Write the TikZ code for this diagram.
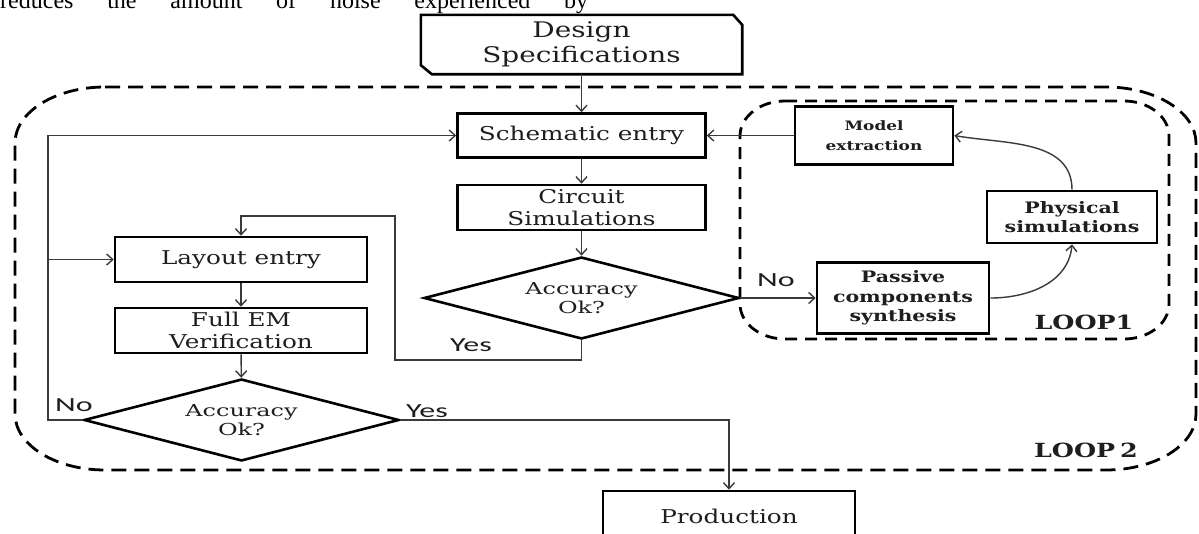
\documentclass[tikz,border=0pt]{standalone}
\usepackage{graphicx}
\usepackage{fontspec}
\setmainfont[FakeStretch=1.3]{DejaVu Serif}
\newfontfamily\diafont[FakeStretch=1.45]{DejaVu Serif}
\newfontfamily\labelfont[FakeStretch=1.6]{Carlito}
\newfontfamily\topfont{Liberation Serif}
\usetikzlibrary{arrows.meta,shapes.geometric,calc}
\definecolor{ink}{HTML}{1E1E1E}
\definecolor{wire}{HTML}{3A3A3A}
\begin{document}
\begin{tikzpicture}[x=1pt,y=1pt,
  box/.style={draw=black, line width=2.6pt, fill=white, inner sep=0pt, align=center, text=ink,
    font=\fontsize{19}{22.5}\selectfont},
  modbox/.style={box, font=\bfseries\fontsize{13}{20}\selectfont},
  smallbox/.style={box, font=\bfseries\fontsize{15.8}{19.5}\selectfont},
  dia/.style={draw=black, shape=diamond, line width=2.6pt, fill=white, inner sep=0pt, aspect=3.8,
    minimum width=315pt, minimum height=82pt, align=center, text=ink,
    font=\diafont\fontsize{16.5}{19.5}\selectfont},
  conn/.style={draw=wire, line width=1.4pt, -{Straight Barb[length=6pt,width=11pt,line width=1.4pt]}},
  lab/.style={inner sep=0pt, text=ink, font=\labelfont\fontsize{20}{20}\selectfont},
  looplab/.style={inner sep=0pt, text=ink, font=\bfseries\fontsize{19.5}{20}\selectfont},
  outerloop/.style={draw=black, line width=2.8pt, dash pattern=on 15pt off 8pt},
  innerloop/.style={draw=black, line width=2.8pt, dash pattern=on 12pt off 8pt}]
\useasboundingbox (0,0) rectangle (1199,-533);
\clip (0,0) rectangle (1199,-533);
\fill[white] (0,0) rectangle (1199,-533);

% cut-off line of body text at the top
\node[anchor=base west, inner sep=0pt, text=black, font=\topfont\fontsize{24}{24}\selectfont] (topline) at (0,-8)
  {\hbox to 588pt{reduces\hfill the\hfill amount\hfill of\hfill noise\hfill experienced\hfill by}};

% loops
\draw[outerloop] (105,-87) -- (1106,-87) arc[start angle=90,end angle=0,x radius=90pt,y radius=56pt]
  -- (1196,-414) arc[start angle=0,end angle=-90,x radius=90pt,y radius=56pt]
  -- (105,-470) arc[start angle=270,end angle=180,x radius=90pt,y radius=56pt]
  -- (15,-143) arc[start angle=180,end angle=90,x radius=90pt,y radius=56pt] -- cycle;
\draw[innerloop] (785,-101) -- (1124,-101) arc[start angle=90,end angle=0,x radius=45pt,y radius=35pt]
  -- (1169,-304) arc[start angle=0,end angle=-90,x radius=45pt,y radius=35pt]
  -- (785,-339) arc[start angle=270,end angle=180,x radius=45pt,y radius=35pt]
  -- (740,-136) arc[start angle=180,end angle=90,x radius=45pt,y radius=35pt] -- cycle;

% nodes
\node[inner sep=0pt, minimum width=321pt, minimum height=59pt, align=center, text=ink,
  font=\fontsize{21.5}{25.5}\selectfont] (des) at (581.5,-44.5) {Design\\Specifications};
\draw[line width=2.6pt, line join=miter] (des.north west) -- ($(des.north east)+(-9,0)$)
  -- ($(des.north east)+(0,-10)$) -- (des.south east) -- ($(des.south west)+(11,0)$)
  -- ($(des.south west)+(0,9)$) -- cycle;
\node[box, minimum width=248pt, minimum height=44pt] (sch) at (581.5,-135.5) {Schematic entry};
\node[box, minimum width=248pt, minimum height=45pt] (cir) at (581.5,-207.5) {Circuit\\Simulations};
\node[dia] (acc1) at (581.5,-298) {Accuracy\\Ok?};
\node[box, minimum width=252pt, minimum height=45pt] (lay) at (241,-259.5) {Layout entry};
\node[box, minimum width=252pt, minimum height=45pt] (fem) at (241,-330.5) {Full EM\\Verification};
\node[dia] (acc2) at (241.5,-420) {Accuracy\\Ok?};
\node[modbox, minimum width=158pt, minimum height=58pt] (mod) at (874,-135.5) {Model\\extraction};
\node[smallbox, minimum width=170pt, minimum height=52pt] (phy) at (1072,-217) {Physical\\simulations};
\node[smallbox, minimum width=172pt, minimum height=71pt] (pas) at (903,-298) {Passive\\components\\synthesis};
\node[box, minimum width=252pt, minimum height=50pt] (prod) at (729,-516) {Production};

% connectors
\draw[conn] (des) -- (sch);
\draw[conn] (sch) -- (cir);
\draw[conn] (cir) -- (acc1);
\draw[conn] (acc1.east) -- (pas.west);
\draw[conn] (pas.east) to[out=0,in=-95] (phy.south);
\draw[conn] (phy.north) to[out=90,in=-10] (mod.east);
\draw[conn] (mod.west) -- (sch.east);
\draw[conn] (acc1.south) |- (395,-360) -- (395,-216) -| (lay.north);
\draw[conn] (lay) -- (fem);
\draw[conn] (fem) -- (acc2);
\draw[conn] (acc2.west) -- (48,-420) |- (sch.west);
\coordinate (nbranch) at (48,-259.5);
\draw[conn] (nbranch) -- (lay.west);
\draw[conn] (acc2.east) -| (prod.north);

% labels
\node[lab] (no1) at (776,-280) {No};
\node[lab] (yes1) at (471,-345) {Yes};
\node[lab] (no2) at (74,-405) {No};
\node[lab] (yes2) at (427,-411) {Yes};
\node[looplab] (l1) at (1084,-322) {LOOP1};
\node[looplab] (l2) at (1086,-450) {LOOP\hspace{5pt}2};
\end{tikzpicture}
\end{document}
